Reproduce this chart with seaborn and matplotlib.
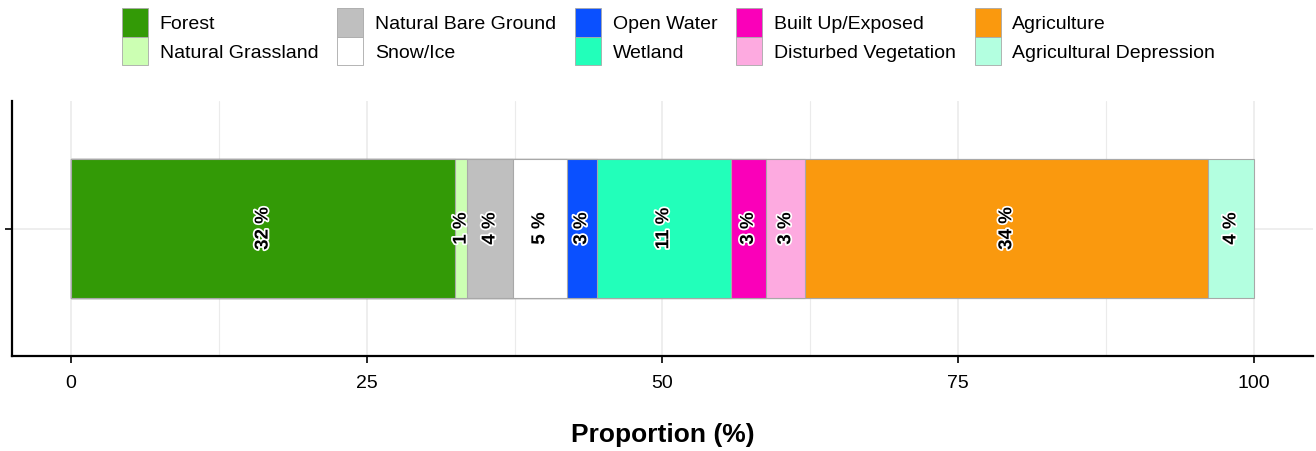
import numpy as np
import pandas as pd
import matplotlib
matplotlib.use("Agg")
import matplotlib.pyplot as plt
import matplotlib.patheffects as pe
from matplotlib.patches import Patch
import seaborn as sns

categories = ["Forest", "Natural Grassland", "Natural Bare Ground", "Snow/Ice",
              "Open Water", "Wetland", "Built Up/Exposed", "Disturbed Vegetation",
              "Agriculture", "Agricultural Depression"]
proportions = [32.46, 1.04, 3.84, 4.56, 2.54, 11.33, 2.98, 3.34, 34.04, 3.87]
colors = ["#339A06", "#CCFFB3", "#BFBFBF", "#FFFFFF", "#0A50FF", "#22FFBA",
          "#FA00B9", "#FDAAE0", "#FA990E", "#B3FFE0"]
xticks = [0, 25, 50, 75, 100]
xlabel = "Proportion (%)"

sns.set_theme(style="white")
plt.rcParams["font.family"] = ["Liberation Sans", "DejaVu Sans"]
plt.rcParams["text.color"] = "black"
plt.rcParams["axes.labelcolor"] = "black"
plt.rcParams["xtick.color"] = "black"
plt.rcParams["ytick.color"] = "black"

df = pd.DataFrame({"category": categories, "value": proportions, "color": colors})
df["cum"] = df["value"].cumsum()
df["start"] = df["cum"] - df["value"]
df["group"] = "All"

fig = plt.figure(figsize=(13.16, 4.52), dpi=100)
ax = fig.add_axes([12 / 1316, 95 / 452, 1301 / 1316, 255 / 452])

# grid
for v in np.arange(0, 101, 12.5):
    ax.axvline(v, color="#ebebeb", lw=0.8 if v % 25 else 1.2, zorder=0)
ax.axhline(0, color="#ebebeb", lw=1.2, zorder=0)

# stacked bars: draw cumulative totals from the last segment backwards
edge = "#a8a8a8"
for i in reversed(range(len(df))):
    sns.barplot(x=[df["cum"][i]], y=[df["group"][i]], orient="h", color=df["color"][i],
                saturation=1, width=0.9, edgecolor=edge, linewidth=0.8, ax=ax, zorder=2)

for i in range(len(df)):
    mid = df["start"][i] + df["value"][i] / 2
    ax.text(mid, 0, f"{int(round(df['value'][i]))} %", rotation=90, ha="center", va="center",
            fontsize=13.5, fontweight="bold", color="black", zorder=5,
            path_effects=[pe.withStroke(linewidth=2.5, foreground="white")])

ax.set_xlim(-5, 105)
ax.set_ylim(0.825, -0.825)
ax.set_xticks(xticks)
ax.set_xticklabels([str(t) for t in xticks], fontsize=14)
ax.set_yticks([0])
ax.set_yticklabels([""])
ax.set_ylabel("")
ax.set_xlabel(xlabel, fontsize=19, fontweight="bold", labelpad=22)
ax.tick_params(axis="both", which="both", direction="out", length=5, width=1.2,
               color="black", bottom=True, left=True, pad=8)
for s in ["top", "right"]:
    ax.spines[s].set_visible(False)
for s in ["left", "bottom"]:
    ax.spines[s].set_color("black")
    ax.spines[s].set_linewidth(1.6)

handles = [Patch(facecolor=c, edgecolor=edge, linewidth=0.6, label=l)
           for c, l in zip(colors, categories)]
fig.legend(handles=handles, loc="upper center", bbox_to_anchor=(0.508, 1.0), ncol=5,
           frameon=False, fontsize=14, handlelength=1.34, handleheight=1.9,
           labelspacing=0.0, handletextpad=0.6, columnspacing=0.97, borderaxespad=0.05)

fig.savefig("out.png", dpi=100)
